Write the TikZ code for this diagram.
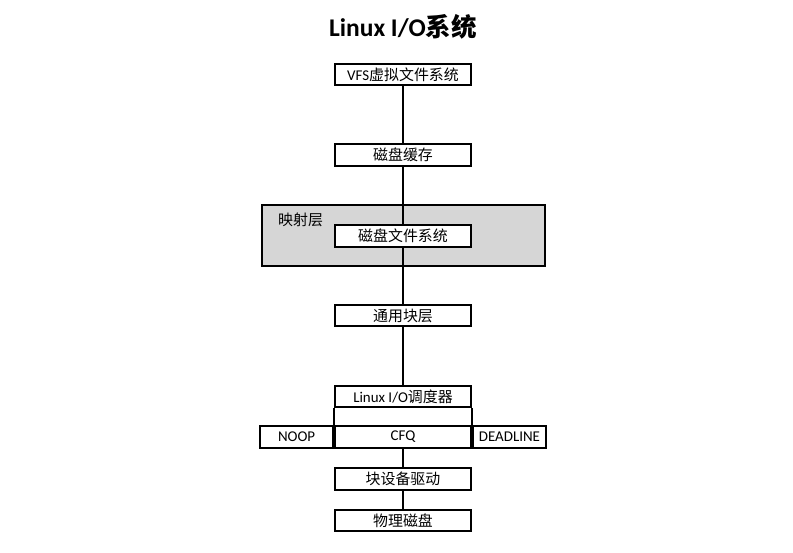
\documentclass[tikz,border=0pt]{standalone}
\usepackage{fontspec}
\setmainfont{Carlito}
\newfontfamily\cjk{Noto Sans CJK SC}
\usetikzlibrary{positioning}

\tikzset{
  box/.style={rectangle,draw,line width=1.1pt,fill=white,minimum width=2.72cm,minimum height=0.43cm,inner sep=0pt,font=\fontsize{8.5}{10}\selectfont},
  side/.style={box,minimum width=1.46cm},
  link/.style={line width=1.1pt}
}

\begin{document}
\begin{tikzpicture}[x=0.02cm,y=-0.02cm]
		\useasboundingbox (0,0) rectangle (793,553);
		\node[font=\fontsize{14.5}{16}\selectfont\bfseries] (title) at (403,27) {Linux I/O{\cjk\bfseries 系统}};

		% mapping layer
		\draw[line width=0.6pt,fill=black!16] (262,205) rectangle (545,266);
		\node[anchor=north west,font=\fontsize{8.5}{10}\selectfont] (maplabel) at (272,207) {\cjk 映射层};

		\node[box] (vfs) at (403,74.5) {VFS{\cjk 虚拟文件系统}};
		\node[box] (cache) at (403,155) {\cjk 磁盘缓存};
		\node[box] (diskfs) at (403,236) {\cjk 磁盘文件系统};
		\node[box] (blk) at (403,315.5) {\cjk 通用块层};

		% scheduler
		\node[box] (sched) at (403,396.5) {Linux I/O{\cjk 调度器}};
		\node[box] (cfq) at (403,437) {CFQ};
		\node[side,anchor=east] (noop) at (cfq.west) {NOOP};
		\node[side,anchor=west] (deadline) at (cfq.east) {DEADLINE};
		\draw[link] (sched.south west) -- (cfq.north west);
		\draw[link] (sched.south east) -- (cfq.north east);

		\node[box] (drv) at (403,479) {\cjk 块设备驱动};
		\node[box] (disk) at (403,520.5) {\cjk 物理磁盘};

		\draw[link] (vfs) -- (cache);
		\draw[link] (cache) -- (diskfs);
		\draw[link] (diskfs) -- (blk);
		\draw[link] (blk) -- (sched);
		\draw[link] (cfq) -- (drv);
		\draw[link] (drv) -- (disk);
\end{tikzpicture}
\end{document}
